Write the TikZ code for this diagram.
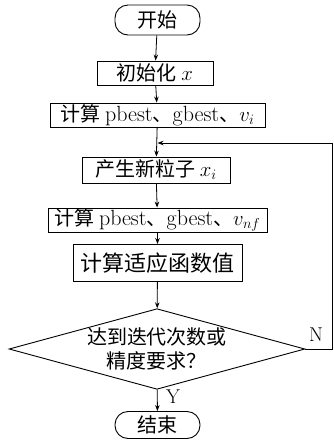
\documentclass[tikz,border=0pt]{standalone}
\usepackage{fontspec}
\newfontfamily\cjk{Noto Sans CJK SC}
\usetikzlibrary{shapes.geometric,arrows.meta}
\newcommand{\lat}[1]{{\fontsize{22}{24}\selectfont\rmfamily #1}}
\newcommand{\mth}[1]{{\fontsize{22}{24}\selectfont $#1$}}
\begin{document}
\begin{tikzpicture}[x=1pt,y=-1pt,
  every node/.style={font=\fontsize{20}{24}\selectfont\cjk},
  box/.style={draw,line width=0.9pt,inner sep=0pt},
  term/.style={draw,line width=0.9pt,rounded corners=13pt,inner sep=0pt},
  dec/.style={draw,line width=0.9pt,diamond,aspect=3.67,inner sep=0pt,align=center},
  arr/.style={line width=0.8pt,-{Stealth[length=6pt,width=4.5pt]}},
  ln/.style={line width=0.8pt},
  lab/.style={font=\fontsize{20}{22}\selectfont\rmfamily}]
\useasboundingbox (0,0) rectangle (333,448);
\node[term,minimum width=85pt,minimum height=30pt] (start) at (157.5,20) {开始};
\node[box,minimum width=116pt,minimum height=24pt] (init) at (155,73) {初始化 \mth{x}};
\node[box,minimum width=215pt,minimum height=24pt] (calc1) at (157.5,115) {计算 \lat{pbest}、\lat{gbest}、\mth{v_i}};
\node[box,minimum width=148pt,minimum height=26pt] (gen) at (156,170) {产生新粒子 \mth{x_i}};
\node[box,minimum width=219pt,minimum height=24pt] (calc2) at (157.5,220) {计算 \lat{pbest}、\lat{gbest}、\mth{v_{nf}}};
\node[box,minimum width=169pt,minimum height=37pt,font=\fontsize{22}{24}\selectfont\cjk] (fit) at (157.5,263) {计算适应函数值};
\node[dec,minimum width=290pt,minimum height=79pt] (dec) at (157,349) {达到迭代次数或\\精度要求？};
\node[term,minimum width=85pt,minimum height=27pt] (end) at (157.5,425) {结束};
\coordinate (j) at (calc1.south |- 0,143);
\coordinate (r1) at (332,349);
\coordinate (r2) at (332,143);
\draw[arr] (start) -- (init);
\draw[arr] (init) -- (calc1);
\draw[arr] (calc1) -- (gen);
\draw[arr] (gen) -- (calc2);
\draw[arr] (calc2) -- (fit);
\draw[arr] (fit) -- (dec);
\draw[arr] (dec) -- (end);
\draw[ln] (dec.east) -- (r1) -- (r2);
\draw[arr] (r2) -- (j);
\node[lab] (nlab) at (316,335) {N};
\node[lab] (ylab) at (173,397) {Y};
\end{tikzpicture}
\end{document}
